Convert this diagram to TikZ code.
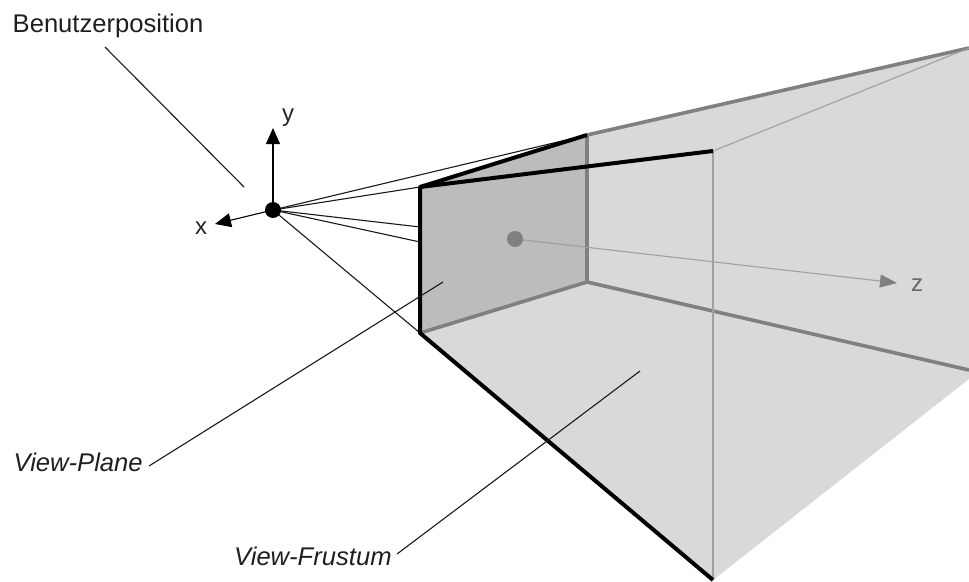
\documentclass[tikz,border=0pt]{standalone}
\usepackage{fontspec}
\setmainfont{Liberation Sans}
\definecolor{planefill}{HTML}{BCBCBC}
\definecolor{frustfill}{HTML}{D9D9D9}
\definecolor{edgegray}{HTML}{808080}
\definecolor{thingray}{HTML}{A0A0A0}
\usetikzlibrary{arrows.meta}
\tikzset{
  heavy/.style={line width=4pt,black,line cap=butt,line join=round},
  heavygray/.style={line width=3.6pt,edgegray,line cap=butt},
  thinblack/.style={line width=1.1pt,black!90},
  thingrayline/.style={line width=1.1pt,thingray},
  labeltext/.style={font=\fontsize{25.6pt}{30pt}\selectfont,inner sep=0pt,text=black!88},
  axislabel/.style={font=\fontsize{24pt}{28pt}\selectfont,inner sep=0pt,text=black!85},
  axisb/.style={line width=1.1pt,black,-{Triangle[length=16pt,width=14pt]}},
}
\begin{document}
\begin{tikzpicture}[x=1pt,y=-1pt]
\useasboundingbox (0,0) rectangle (969,581);
\coordinate (E) at (273,210);
\coordinate (PTL) at (420,187);
\coordinate (PBL) at (420,333);
\coordinate (PTR) at (587,135);
\coordinate (PBR) at (587,282);
\coordinate (FT) at (713,151);
\coordinate (FB) at (713,580);
\coordinate (RT) at (969,48);
\coordinate (RB) at (969,370);
\coordinate (RC) at (969,379);
\coordinate (PM1) at (420,227);
\coordinate (PM2) at (420,242);
\coordinate (Yt) at (273,128);
\coordinate (Xt) at (215,224);
\coordinate (Zs) at (515,239);
\coordinate (Zt) at (897,283);
% fills
\fill[frustfill] (PTR) -- (RT) -- (RC) -- (FB) -- (PBL) -- (PTL) -- cycle;
\fill[planefill] (PTL) -- (PTR) -- (PBR) -- (PBL) -- cycle;
% gray edges
\draw[heavygray] (PTR) -- (RT);
\draw[heavygray] (PTR) -- (PBR);
\draw[heavygray] (PBL) -- (PBR);
\draw[heavygray] (PBR) -- (RB);
\draw[thingrayline] (FT) -- (FB);
\draw[thingrayline] (FT) -- (RT);
% z axis
\draw[thingrayline,-{Triangle[length=17pt,width=13pt,color=edgegray]}] (Zs) -- (Zt);
\fill[edgegray] (Zs) circle (8);
% eye rays
\draw[thinblack] (E) -- (PTR);
\draw[thinblack] (E) -- (PTL);
\draw[thinblack] (E) -- (PM1);
\draw[thinblack] (E) -- (PM2);
\draw[thinblack] (E) -- (PBL);
% black edges
\draw[heavy] (FB) -- (PBL) -- (PTL) -- (PTR);
\draw[heavy] (PTL) -- (FT);
% axes
\draw[axisb] (E) -- (Yt);
\draw[axisb] (E) -- (Xt);
\fill[black] (E) circle (8);
% labels
\node[axislabel] (ly) at (288,118) {y};
\node[axislabel] (lx) at (201,228) {x};
\node[axislabel,text=black!60] (lz) at (917,285) {z};
\node[labeltext,anchor=base west] (lb) at (12.5,32) {Benutzerposition};
\node[labeltext,anchor=base west] (lv) at (13.5,471) {\itshape View-Plane};
\node[labeltext,anchor=base west] (lf) at (234,565) {\itshape View-Frustum};
% leaders
\coordinate (Bs) at (105,47);
\coordinate (Be) at (244,187);
\coordinate (Vs) at (149,466);
\coordinate (Ve) at (443,282);
\coordinate (Fs) at (397,554);
\coordinate (Fe) at (640,371);
\draw[thinblack] (Bs) -- (Be);
\draw[thinblack] (Vs) -- (Ve);
\draw[thinblack] (Fs) -- (Fe);
\end{tikzpicture}
\end{document}
